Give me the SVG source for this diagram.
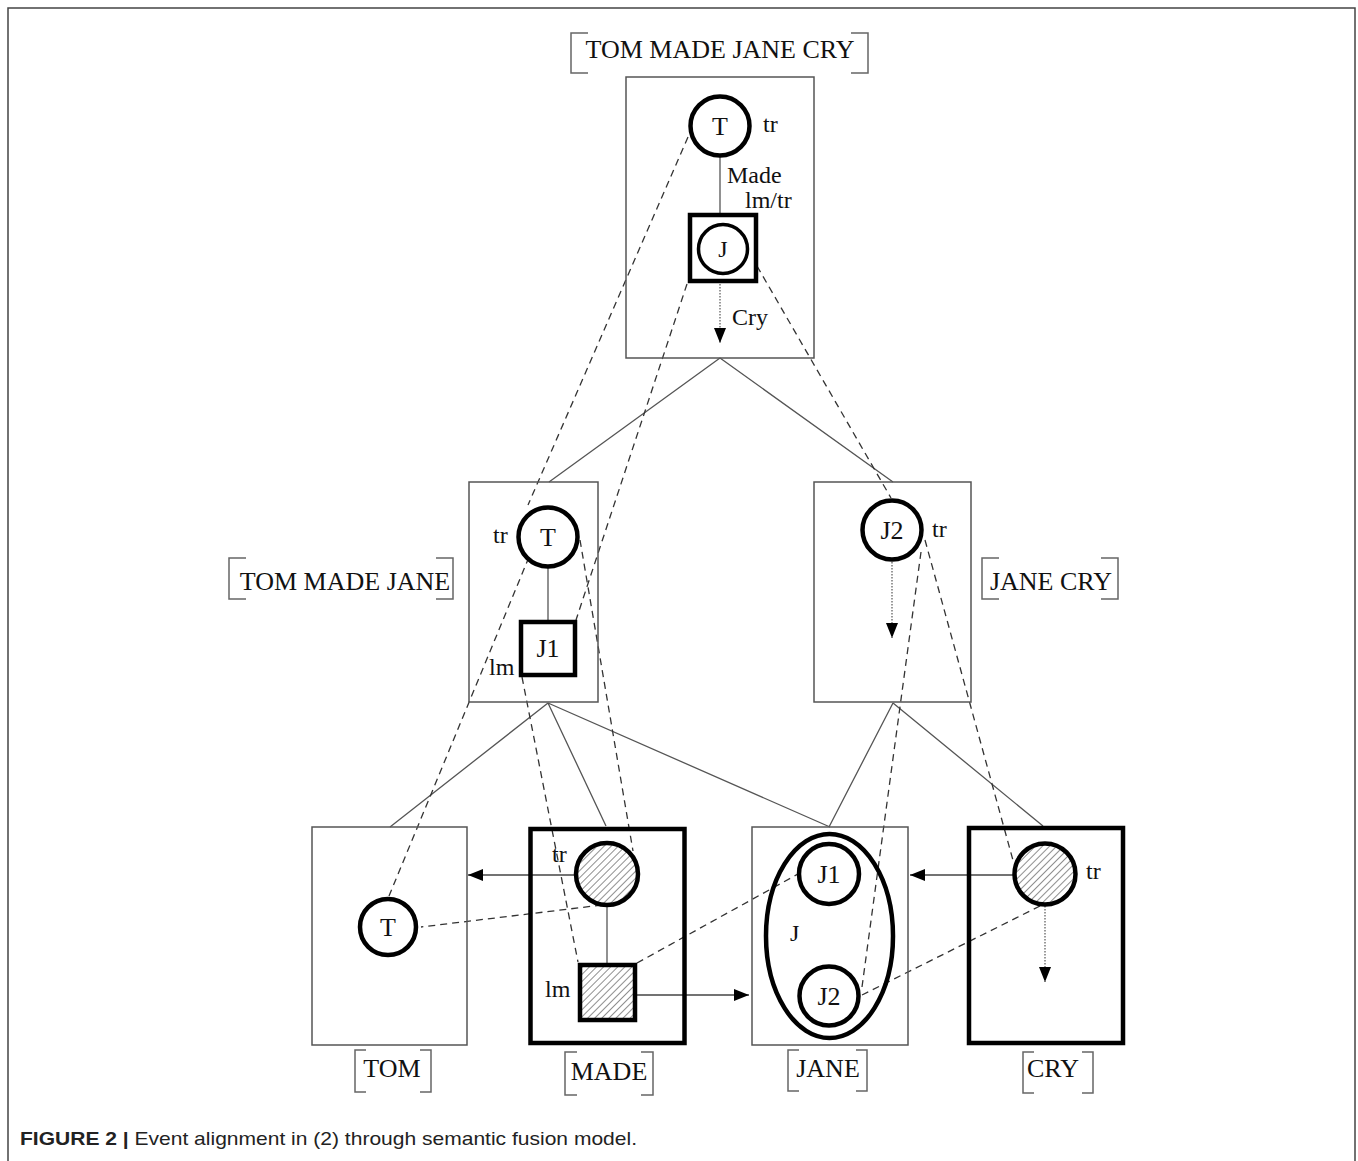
<svg xmlns="http://www.w3.org/2000/svg" width="1358" height="1161" viewBox="0 0 1358 1161">
<style>
.box{fill:none;stroke:#555;stroke-width:1.5}
.tbox{fill:none;stroke:#000;stroke-width:4.5}
.node{fill:#fff;stroke:#000;stroke-width:4.5}
.hnode{fill:url(#hatch);stroke:#000;stroke-width:4.5}
.br{fill:none;stroke:#666;stroke-width:1.5}
.lbl{font-family:"Liberation Serif","Times New Roman",serif;font-size:24px;fill:#111}
.nl{font-family:"Liberation Serif","Times New Roman",serif;font-size:26px;fill:#111;text-anchor:middle}
.ttl{font-family:"Liberation Serif","Times New Roman",serif;font-size:26px;fill:#111;text-anchor:middle}
.solid{fill:none;stroke:#555;stroke-width:1.3}
.dash{fill:none;stroke:#333;stroke-width:1.3;stroke-dasharray:7 5}
.dot{fill:none;stroke:#555;stroke-width:1.2;stroke-dasharray:1.5 1.5}
.arr{fill:none;stroke:#444;stroke-width:1.3}
</style>
<defs>
<pattern id="hatch" patternUnits="userSpaceOnUse" width="5" height="5" patternTransform="rotate(45)">
<rect width="5" height="5" fill="#fff"/>
<line x1="0" y1="0" x2="0" y2="5" stroke="#444" stroke-width="1.2"/>
</pattern>
<marker id="ah" markerUnits="userSpaceOnUse" markerWidth="16" markerHeight="12" refX="15" refY="6" orient="auto">
<path d="M0,0 L15,6 L0,12 Z" fill="#000"/>
</marker>
</defs>
<rect width="1358" height="1161" fill="#fff"/>
<path d="M8,1161 V8 H1355 V1161" fill="none" stroke="#444" stroke-width="1.5"/>

<g id="connectors">
<path class="solid" d="M720,358 L549,482 M720,358 L893,482"/>
<path class="solid" d="M548,703 L390,827 M548,703 L606,826 M548,703 L830,827"/>
<path class="solid" d="M893,703 L829,827 M893,703 L1043,826"/>
<path class="dash" d="M688,137 L528,505"/>
<path class="dash" d="M529,557 L389,896"/>
<path class="dash" d="M687,284 L576,620"/>
<path class="dash" d="M757,266 L891,498"/>
<path class="dash" d="M580,540 L633,851"/>
<path class="dash" d="M522,677 L578,962"/>
<path class="dash" d="M602,905 L421,927"/>
<path class="dash" d="M637,963 L798,874"/>
<path class="dash" d="M921,552 L862,987"/>
<path class="dash" d="M925,540 L1014,864"/>
<path class="dash" d="M1040,906 L862,995"/>
<path class="arr" d="M576,875 H468" marker-end="url(#ah)"/>
<path class="arr" d="M1014,875 H910" marker-end="url(#ah)"/>
<path class="arr" d="M637,995 H749" marker-end="url(#ah)"/>
<path class="dot" d="M720,284 V343" marker-end="url(#ah)"/>
<path class="dot" d="M892,562 V638" marker-end="url(#ah)"/>
<path class="dot" d="M1045,906 V982" marker-end="url(#ah)"/>
</g>

<g id="tom-made-jane-cry">
<path class="br" d="M588,33 H571 V73 H588 M851,33 H868 V73 H851"/>
<text class="ttl" x="720" y="58">TOM MADE JANE CRY</text>
<rect class="box" x="626" y="77" width="188" height="281"/>
<line x1="720" y1="157" x2="720" y2="215" stroke="#555" stroke-width="1.3"/>
<circle class="node" cx="720" cy="126" r="29.5"/>
<text class="nl" x="720" y="135">T</text>
<text class="lbl" x="763" y="132">tr</text>
<text class="lbl" x="727" y="183">Made</text>
<text class="lbl" x="745" y="208">lm/tr</text>
<rect class="node" x="690" y="215" width="66" height="66"/>
<circle fill="#fff" stroke="#000" stroke-width="3.5" cx="723" cy="249" r="24.5"/>
<text class="lbl" x="723" y="257" text-anchor="middle">J</text>
<text class="lbl" x="732" y="325">Cry</text>
</g>

<g id="tom-made-jane">
<path class="br" d="M246,558 H229 V599 H246 M436,558 H453 V599 H436"/>
<text class="ttl" x="345" y="590">TOM MADE JANE</text>
<rect class="box" x="469" y="482" width="129" height="220"/>
<line x1="548" y1="568" x2="548" y2="622" stroke="#555" stroke-width="1.3"/>
<circle class="node" cx="548" cy="537" r="29.5"/>
<text class="nl" x="548" y="546">T</text>
<text class="lbl" x="493" y="543">tr</text>
<rect class="node" x="521" y="622" width="54" height="53"/>
<text class="nl" x="548" y="657">J1</text>
<text class="lbl" x="489" y="675">lm</text>
</g>

<g id="jane-cry">
<path class="br" d="M999,558 H982 V599 H999 M1101,558 H1118 V599 H1101"/>
<text class="ttl" x="1051" y="590">JANE CRY</text>
<rect class="box" x="814" y="482" width="157" height="220"/>
<circle class="node" cx="892" cy="530" r="29.5"/>
<text class="nl" x="892" y="539">J2</text>
<text class="lbl" x="932" y="537">tr</text>
</g>

<g id="tom">
<rect class="box" x="312" y="827" width="155" height="218"/>
<circle class="node" cx="388" cy="927" r="28"/>
<text class="nl" x="388" y="936">T</text>
<path class="br" d="M366,1050 H355 V1092 H366 M420,1050 H431 V1092 H420"/>
<text class="ttl" x="392" y="1077">TOM</text>
</g>

<g id="made">
<rect class="tbox" x="530.5" y="829" width="154" height="214"/>
<line x1="607" y1="906" x2="607" y2="965" stroke="#555" stroke-width="1.3"/>
<circle class="hnode" cx="607" cy="874" r="31"/>
<text class="lbl" x="552" y="862">tr</text>
<rect class="hnode" x="580" y="965" width="55" height="55"/>
<text class="lbl" x="545" y="997">lm</text>
<path class="br" d="M577,1052 H565 V1095 H577 M641,1052 H653 V1095 H641"/>
<text class="ttl" x="609" y="1080">MADE</text>
</g>

<g id="jane">
<rect class="box" x="752" y="827" width="156" height="218"/>
<ellipse fill="none" stroke="#000" stroke-width="4.5" cx="829.5" cy="936" rx="63.5" ry="102"/>
<circle class="node" cx="829" cy="874" r="30"/>
<text class="nl" x="829" y="883">J1</text>
<circle class="node" cx="829" cy="996" r="29.5"/>
<text class="nl" x="829" y="1005">J2</text>
<text class="lbl" x="790" y="941">J</text>
<path class="br" d="M799,1050 H788 V1091 H799 M856,1050 H867 V1091 H856"/>
<text class="ttl" x="828" y="1077">JANE</text>
</g>

<g id="cry">
<rect class="tbox" x="969" y="828" width="154" height="215"/>
<circle class="hnode" cx="1045" cy="874" r="30.5"/>
<text class="lbl" x="1086" y="879">tr</text>
<path class="br" d="M1034,1052 H1023 V1093 H1034 M1082,1052 H1093 V1093 H1082"/>
<text class="ttl" x="1053" y="1077">CRY</text>
</g>

<text x="20" y="1145" font-family="'Liberation Sans',Arial,sans-serif" font-size="19" fill="#222" textLength="617" lengthAdjust="spacingAndGlyphs"><tspan font-weight="bold">FIGURE 2 | </tspan>Event alignment in (2) through semantic fusion model.</text>
</svg>
